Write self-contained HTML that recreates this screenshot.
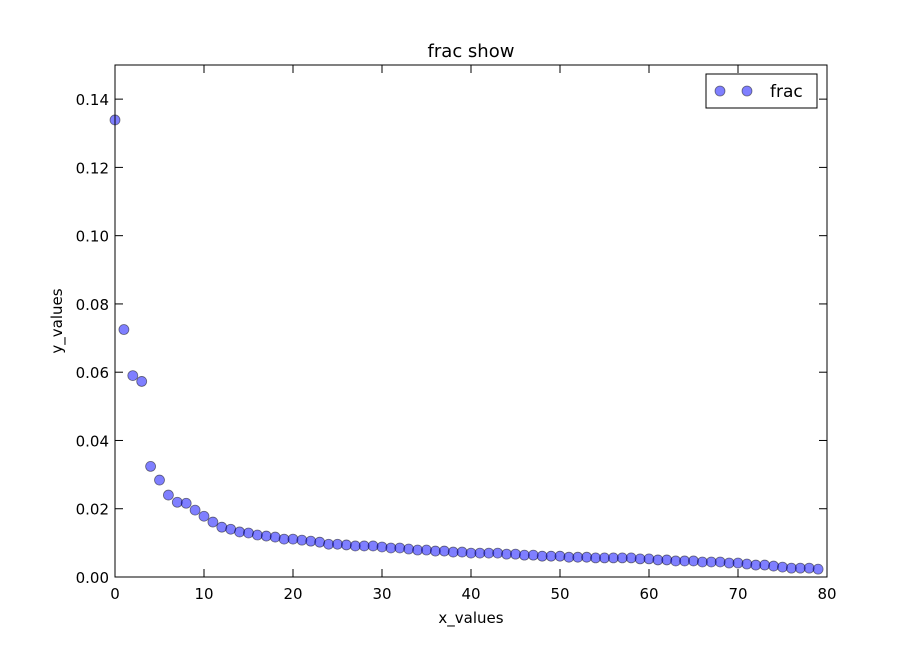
<!DOCTYPE html>
<html><head><meta charset="utf-8"><style>
body{margin:0;background:#fff;}
svg text{font-family:"DejaVu Sans","Liberation Sans",sans-serif;fill:#000;}
</style></head><body>
<svg id="chart" width="918" height="642">
<rect width="918" height="642" fill="#fff"/>
<text x="471" y="57" font-size="18" text-anchor="middle">frac show</text>
<text x="471" y="623" font-size="15" text-anchor="middle">x_values</text>
<text x="62" y="321" font-size="15" text-anchor="middle" transform="rotate(-90 62 321)">y_values</text>
<g id="ticks"></g>
<g id="points"></g>
<rect x="115" y="65" width="712" height="512" fill="none" stroke="#000" stroke-width="1"/>
<g>
<rect x="706" y="74" width="111" height="34" fill="#fff" stroke="#000"/>
<circle cx="720" cy="91" r="5" fill="rgba(0,0,255,0.5)" stroke="rgba(0,0,0,0.5)" stroke-width="0.8"/>
<circle cx="747" cy="91" r="5" fill="rgba(0,0,255,0.5)" stroke="rgba(0,0,0,0.5)" stroke-width="0.8"/>
<text x="770" y="97" font-size="17">frac</text>
</g>
</svg>
<script>
const xValues=[0,1,2,3,4,5,6,7,8,9,10,11,12,13,14,15,16,17,18,19,20,21,22,23,24,25,26,27,28,29,30,31,32,33,34,35,36,37,38,39,40,41,42,43,44,45,46,47,48,49,50,51,52,53,54,55,56,57,58,59,60,61,62,63,64,65,66,67,68,69,70,71,72,73,74,75,76,77,78,79];
const fracValues=[0.1339,0.0725,0.059,0.0573,0.0324,0.0284,0.024,0.0219,0.0216,0.0196,0.0178,0.0161,0.0146,0.014,0.0132,0.0129,0.0123,0.012,0.0117,0.0111,0.0111,0.0108,0.0105,0.0102,0.0096,0.0096,0.0094,0.0091,0.0091,0.0091,0.0088,0.0085,0.0085,0.0082,0.0079,0.0079,0.0076,0.0076,0.0073,0.0073,0.007,0.007,0.007,0.007,0.0067,0.0067,0.0064,0.0064,0.0061,0.0061,0.0061,0.0058,0.0058,0.0058,0.0056,0.0056,0.0056,0.0056,0.0056,0.0053,0.0053,0.005,0.005,0.0047,0.0047,0.0047,0.0044,0.0044,0.0044,0.0041,0.0041,0.0038,0.0035,0.0035,0.0032,0.0029,0.0026,0.0026,0.0026,0.0023];
const xTicks=[0,10,20,30,40,50,60,70,80];
const yTicks=[0,0.02,0.04,0.06,0.08,0.10,0.12,0.14];
const yTickLabels=["0.00","0.02","0.04","0.06","0.08","0.10","0.12","0.14"];
const L=115,R=827,T=65,B=577;
const xMin=0,xMax=80,yMin=0,yMax=0.15;
function sx(v){return L+(v-xMin)/(xMax-xMin)*(R-L);}
function sy(v){return B-(v-yMin)/(yMax-yMin)*(B-T);}
const NS="http://www.w3.org/2000/svg";
const tg=document.getElementById('ticks');
function line(x1,y1,x2,y2,name){const l=document.createElementNS(NS,'line');l.setAttribute('x1',x1);l.setAttribute('y1',y1);l.setAttribute('x2',x2);l.setAttribute('y2',y2);l.setAttribute('stroke','#000');


tg.appendChild(l);}
function text(x,y,s,anchor,name){const t=document.createElementNS(NS,'text');t.setAttribute('x',x);t.setAttribute('y',y);t.setAttribute('font-size','15');t.setAttribute('text-anchor',anchor);t.textContent=s;


tg.appendChild(t);}
xTicks.forEach(v=>{const x=sx(v);line(x,B,x,B-8,'x-tick');line(x,T,x,T+8,'x-tick-top');text(x,B+22,String(v),'middle','x-tick-label');});
yTicks.forEach((v,i)=>{const y=sy(v);line(L,y,L+8,y,'y-tick');line(R,y,R-8,y,'y-tick-right');text(L-6,y+6,yTickLabels[i],'end','y-tick-label');});
const pg=document.getElementById('points');
xValues.forEach((xv,i)=>{const c=document.createElementNS(NS,'circle');c.setAttribute('cx',sx(xv));c.setAttribute('cy',sy(fracValues[i]));c.setAttribute('r',5);c.setAttribute('fill','rgba(0,0,255,0.5)');c.setAttribute('stroke','rgba(0,0,0,0.5)');c.setAttribute('stroke-width','0.8');


pg.appendChild(c);});
</script>
</body></html>
